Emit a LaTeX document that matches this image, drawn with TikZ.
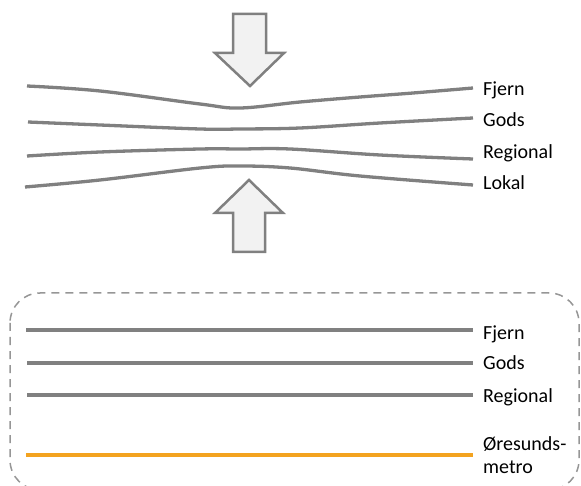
\documentclass[tikz,border=0pt]{standalone}
\usepackage{fontspec}
\setmainfont{Carlito}
\begin{document}
\begin{tikzpicture}[x=1pt,y=-1pt,
  track/.style={draw=trackgray,line width=3.3pt,line cap=butt},
  metro/.style={draw=metroorange,line width=3.3pt},
  lbl/.style={anchor=base west,inner sep=0pt,font=\fontsize{20}{23}\selectfont,text=black},
  bigarrow/.style={draw=arrowgray,fill=arrowfill,line width=2.5pt,line join=miter},
  frame/.style={draw=framegray,line width=1.5pt,dash pattern=on 8pt off 6pt,rounded corners=30pt}]
\definecolor{trackgray}{RGB}{128,128,128}
\definecolor{metroorange}{RGB}{243,163,32}
\definecolor{arrowgray}{RGB}{128,128,128}
\definecolor{arrowfill}{RGB}{242,242,242}
\definecolor{framegray}{RGB}{150,150,150}
\useasboundingbox (0,0) rectangle (581,486);
\begin{scope}
\clip (0,0) rectangle (581,486);
% arrows
\path[bigarrow] (233,14) -- (266,14) -- (266,53) -- (284,53) -- (250,86) -- (215,53) -- (233,53) -- cycle;
\path[bigarrow] (233,252) -- (265,252) -- (265,213) -- (283,213) -- (249,180) -- (215,213) -- (233,213) -- cycle;
% top converging tracks
\draw[track] plot[smooth,tension=0.6] coordinates {(27,86) (100,91) (200,104) (240,108) (300,102) (360,97) (413,93) (473,88)};
\draw[track] plot[smooth,tension=0.6] coordinates {(28,122) (100,125) (200,129) (240,129) (300,128) (380,123) (473,118)};
\draw[track] plot[smooth,tension=0.6] coordinates {(27,156) (100,152) (200,149) (240,149) (290,149) (380,155) (473,159)};
\draw[track] plot[smooth,tension=0.6] coordinates {(25,187) (100,180) (200,168) (240,166) (290,168) (360,176) (473,185)};
\node[lbl] (t1) at (483,96) {Fjern};
\node[lbl] (t2) at (483,127) {Gods};
\node[lbl] (t3) at (483,159) {Regional};
\node[lbl] (t4) at (483,190) {Lokal};
% bottom frame
\path[frame] (10,293) rectangle (579,490);
\coordinate (b1s) at (26,330); \coordinate (b1e) at (473,330);
\coordinate (b2s) at (27,363); \coordinate (b2e) at (473,363);
\coordinate (b3s) at (27,395); \coordinate (b3e) at (473,395);
\coordinate (b4s) at (26,455); \coordinate (b4e) at (473,455);
\draw[track] (b1s) -- (b1e);
\draw[track] (b2s) -- (b2e);
\draw[track] (b3s) -- (b3e);
\draw[metro] (b4s) -- (b4e);
\node[lbl] (f1) at (483,339) {Fjern};
\node[lbl] (f2) at (483,370) {Gods};
\node[lbl] (f3) at (483,402) {Regional};
\node[lbl] (f4) at (483,450) {Øresunds-};
\node[lbl] (f5) at (483,473) {metro};
\end{scope}
\end{tikzpicture}
\end{document}
